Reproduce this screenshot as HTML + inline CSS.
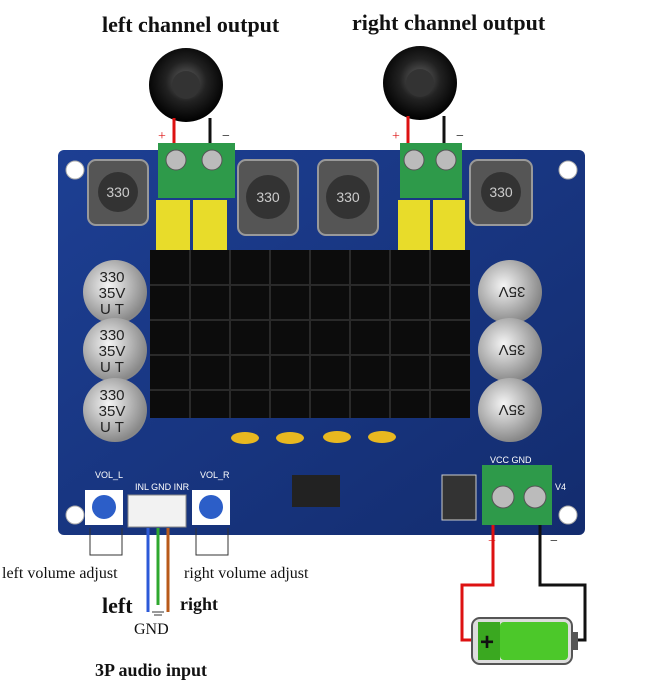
<!DOCTYPE html>
<html><head><meta charset="utf-8"><style>
body{margin:0;background:#fff;width:671px;height:690px;overflow:hidden;position:relative;font-family:"Liberation Serif",serif}
.t{position:absolute;color:#111;white-space:nowrap}
</style></head><body>
<svg width="671" height="690" style="position:absolute;left:0;top:0">
<defs>
<radialGradient id="sp" cx="50%" cy="45%" r="55%"><stop offset="0" stop-color="#666"/><stop offset="0.5" stop-color="#222"/><stop offset="1" stop-color="#000"/></radialGradient>
<radialGradient id="cap" cx="40%" cy="40%" r="60%"><stop offset="0" stop-color="#f4f4f4"/><stop offset="1" stop-color="#888"/></radialGradient>
<linearGradient id="bd" x1="0" y1="0" x2="1" y2="1"><stop offset="0" stop-color="#1d3f93"/><stop offset="1" stop-color="#132c6e"/></linearGradient>
</defs>
<!-- speakers -->
<circle cx="186" cy="85" r="37" fill="url(#sp)"/>
<circle cx="186" cy="85" r="14" fill="#333"/>
<circle cx="420" cy="83" r="37" fill="url(#sp)"/>
<circle cx="420" cy="83" r="14" fill="#333"/>
<line x1="174" y1="118" x2="174" y2="145" stroke="#d11" stroke-width="3"/>
<line x1="210" y1="118" x2="210" y2="145" stroke="#111" stroke-width="3"/>
<line x1="408" y1="116" x2="408" y2="145" stroke="#d11" stroke-width="3"/>
<line x1="444" y1="116" x2="444" y2="145" stroke="#111" stroke-width="3"/>
<text x="158" y="140" fill="#d11" font-size="14">+</text>
<text x="222" y="140" fill="#111" font-size="14">−</text>
<text x="392" y="140" fill="#d11" font-size="14">+</text>
<text x="456" y="140" fill="#111" font-size="14">−</text>
<!-- board -->
<rect x="58" y="150" width="527" height="385" rx="6" fill="url(#bd)"/>
<circle cx="75" cy="170" r="9" fill="#fff" stroke="#aaa"/>
<circle cx="568" cy="170" r="9" fill="#fff" stroke="#aaa"/>
<circle cx="75" cy="515" r="9" fill="#fff" stroke="#aaa"/>
<circle cx="568" cy="515" r="9" fill="#fff" stroke="#aaa"/>
<!-- inductors -->
<g fill="#555" stroke="#999" stroke-width="2">
<rect x="88" y="160" width="60" height="65" rx="8"/>
<rect x="238" y="160" width="60" height="75" rx="8"/>
<rect x="318" y="160" width="60" height="75" rx="8"/>
<rect x="470" y="160" width="62" height="65" rx="8"/>
</g>
<g fill="#333"><circle cx="118" cy="192" r="20"/><circle cx="268" cy="197" r="22"/><circle cx="348" cy="197" r="22"/><circle cx="501" cy="192" r="20"/></g>
<g fill="#ccc" font-family="Liberation Sans" font-size="14" text-anchor="middle">
<text x="118" y="197">330</text><text x="268" y="202">330</text><text x="348" y="202">330</text><text x="501" y="197">330</text></g>
<!-- terminal blocks -->
<rect x="158" y="143" width="77" height="55" fill="#2e9a4a"/>
<rect x="400" y="143" width="62" height="55" fill="#2e9a4a"/>
<g fill="#bbb" stroke="#555"><circle cx="176" cy="160" r="10"/><circle cx="212" cy="160" r="10"/><circle cx="414" cy="160" r="10"/><circle cx="446" cy="160" r="10"/></g>
<!-- yellow caps -->
<g fill="#e8dc2a"><rect x="156" y="200" width="34" height="50"/><rect x="193" y="200" width="34" height="50"/><rect x="398" y="200" width="32" height="50"/><rect x="433" y="200" width="32" height="50"/></g>
<!-- heatsink -->
<rect x="150" y="250" width="320" height="168" fill="#0c0c0c"/>
<g stroke="#2a2a2a" stroke-width="2">
<line x1="150" y1="285" x2="470" y2="285"/><line x1="150" y1="320" x2="470" y2="320"/><line x1="150" y1="355" x2="470" y2="355"/><line x1="150" y1="390" x2="470" y2="390"/>
<line x1="190" y1="250" x2="190" y2="418"/><line x1="230" y1="250" x2="230" y2="418"/><line x1="270" y1="250" x2="270" y2="418"/><line x1="310" y1="250" x2="310" y2="418"/><line x1="350" y1="250" x2="350" y2="418"/><line x1="390" y1="250" x2="390" y2="418"/><line x1="430" y1="250" x2="430" y2="418"/>
</g>
<!-- caps -->
<g fill="url(#cap)"><circle cx="115" cy="292" r="32"/><circle cx="115" cy="350" r="32"/><circle cx="115" cy="410" r="32"/><circle cx="510" cy="292" r="32"/><circle cx="510" cy="350" r="32"/><circle cx="510" cy="410" r="32"/></g>
<g fill="#222" font-family="Liberation Sans" font-size="15" text-anchor="middle">
<text x="112" y="282">330</text><text x="112" y="298">35V</text><text x="112" y="314">U T</text>
<text x="112" y="340">330</text><text x="112" y="356">35V</text><text x="112" y="372">U T</text>
<text x="112" y="400">330</text><text x="112" y="416">35V</text><text x="112" y="432">U T</text>
</g>
<g fill="#222" font-family="Liberation Sans" font-size="15" text-anchor="middle">
<text transform="translate(512,292) rotate(180)" y="5">35V</text>
<text transform="translate(512,350) rotate(180)" y="5">35V</text>
<text transform="translate(512,410) rotate(180)" y="5">35V</text>
</g>
<!-- small yellow -->
<g fill="#e8b820"><ellipse cx="245" cy="438" rx="14" ry="6"/><ellipse cx="290" cy="438" rx="14" ry="6"/><ellipse cx="337" cy="437" rx="14" ry="6"/><ellipse cx="382" cy="437" rx="14" ry="6"/></g>
<!-- IC -->
<rect x="292" y="475" width="48" height="32" fill="#222"/>
<!-- diode -->
<rect x="442" y="475" width="34" height="45" fill="#333" stroke="#ccc"/>
<!-- pots -->
<rect x="85" y="490" width="38" height="35" fill="#fff"/><circle cx="104" cy="507" r="12" fill="#2c5ec8"/>
<rect x="192" y="490" width="38" height="35" fill="#fff"/><circle cx="211" cy="507" r="12" fill="#2c5ec8"/>
<rect x="128" y="495" width="58" height="32" fill="#f2f2f2" stroke="#888"/>
<!-- power terminal -->
<rect x="482" y="465" width="70" height="60" fill="#2e9a4a"/>
<circle cx="503" cy="497" r="11" fill="#bbb" stroke="#555"/><circle cx="535" cy="497" r="11" fill="#bbb" stroke="#555"/>
<g fill="#fff" font-family="Liberation Sans" font-size="9"><text x="490" y="463">VCC GND</text><text x="555" y="490">V4</text><text x="95" y="478">VOL_L</text><text x="200" y="478">VOL_R</text><text x="135" y="490">INL GND INR</text></g>
<!-- input wires -->
<g stroke-width="3" fill="none">
<line x1="148" y1="528" x2="148" y2="612" stroke="#2c5ad8"/>
<line x1="158" y1="528" x2="158" y2="605" stroke="#2fa82f"/>
<line x1="168" y1="528" x2="168" y2="612" stroke="#b85a1a"/>
</g>
<line x1="152" y1="612" x2="164" y2="612" stroke="#333"/><line x1="154" y1="615" x2="162" y2="615" stroke="#333"/>
<g stroke="#333" fill="none"><path d="M90 528 V555 H122 V528"/><path d="M196 528 V555 H228 V528"/></g>
<!-- power wires -->
<path d="M493 525 V585 H462 V640 H472" stroke="#d11" stroke-width="3" fill="none"/>
<path d="M540 525 V585 H585 V640 H575" stroke="#111" stroke-width="3" fill="none"/>
<text x="488" y="545" fill="#d11" font-size="14">+</text>
<text x="550" y="545" fill="#111" font-size="14">−</text>
<!-- battery -->
<rect x="472" y="618" width="100" height="46" rx="8" fill="#ddd" stroke="#555" stroke-width="2"/>
<rect x="572" y="632" width="6" height="18" fill="#555"/>
<rect x="500" y="622" width="68" height="38" rx="4" fill="#4cc82a"/>
<rect x="478" y="622" width="22" height="38" fill="#3aa820"/>
<text x="480" y="650" fill="#111" font-size="24" font-family="Liberation Sans" font-weight="bold">+</text>
</svg>
<div class="t" style="left:102px;top:12px;font-size:22px;font-weight:bold">left channel output</div>
<div class="t" style="left:352px;top:10px;font-size:22px;font-weight:bold">right channel output</div>
<div class="t" style="left:2px;top:565px;font-size:16px">left volume adjust</div>
<div class="t" style="left:184px;top:565px;font-size:16px">right volume adjust</div>
<div class="t" style="left:102px;top:593px;font-size:22px;font-weight:bold">left</div>
<div class="t" style="left:180px;top:594px;font-size:18px;font-weight:bold">right</div>
<div class="t" style="left:134px;top:621px;font-size:16px">GND</div>
<div class="t" style="left:95px;top:660px;font-size:18px;font-weight:bold">3P audio input</div>
</body></html>
